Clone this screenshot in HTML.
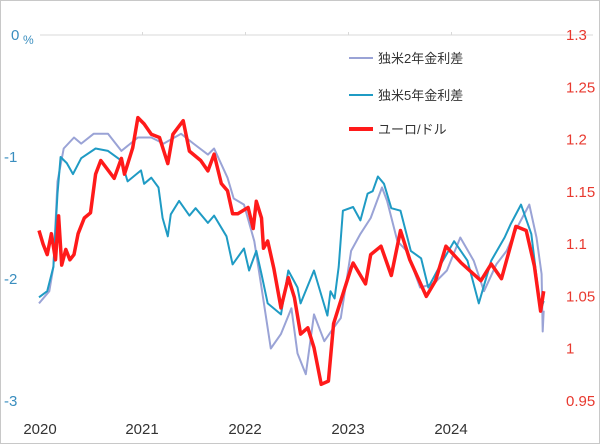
<!DOCTYPE html>
<html><head><meta charset="utf-8"><style>
body{margin:0;background:#fff}
#wrap{width:600px;height:444px;position:relative;box-sizing:border-box;border:1px solid #c8c8c8;background:#fff}
svg{position:absolute;left:0;top:0}
text{font-family:"Liberation Sans","Noto Sans CJK JP",sans-serif}
</style></head><body>
<div id="wrap">
<svg id="chart" width="600" height="444"></svg>
</div>
<script>
const yearTicks=[2020,2021,2022,2023,2024];
const leftTicks=[0,-1,-2,-3];
const rightTicks=[1.3,1.25,1.2,1.15,1.1,1.05,1,0.95];
const rightTickLabels=["1.3","1.25","1.2","1.15","1.1","1.05","1","0.95"];
const seriesNames=["独米2年金利差","独米5年金利差","ユーロ/ドル"];
const spread2Dates=[2020.00,2020.10,2020.14,2020.18,2020.24,2020.34,2020.41,2020.53,2020.67,2020.80,2020.96,2021.09,2021.21,2021.38,2021.50,2021.64,2021.70,2021.83,2021.89,2021.99,2022.09,2022.16,2022.25,2022.35,2022.45,2022.51,2022.59,2022.67,2022.77,2022.86,2022.93,2023.03,2023.12,2023.22,2023.33,2023.38,2023.48,2023.57,2023.70,2023.83,2023.96,2024.09,2024.22,2024.32,2024.44,2024.54,2024.64,2024.76,2024.83,2024.88,2024.89,2024.90];
const spread2Values=[-2.2,-2.1,-1.9,-1.2,-0.93,-0.84,-0.89,-0.81,-0.81,-0.95,-0.84,-0.84,-0.89,-0.81,-0.89,-0.98,-0.93,-1.17,-1.34,-1.39,-1.69,-2.07,-2.57,-2.45,-2.24,-2.61,-2.78,-2.29,-2.51,-2.4,-2.32,-1.77,-1.63,-1.5,-1.25,-1.36,-1.69,-1.77,-2.07,-2.04,-1.93,-1.66,-1.85,-2.1,-1.88,-1.77,-1.58,-1.39,-1.66,-1.96,-2.43,-2.26];
const spread5Dates=[2020.00,2020.08,2020.14,2020.18,2020.21,2020.27,2020.33,2020.41,2020.55,2020.67,2020.80,2020.86,2020.99,2021.02,2021.09,2021.16,2021.20,2021.25,2021.28,2021.36,2021.46,2021.52,2021.64,2021.70,2021.82,2021.88,2021.99,2022.04,2022.11,2022.16,2022.22,2022.35,2022.42,2022.51,2022.54,2022.67,2022.80,2022.83,2022.87,2022.91,2022.95,2023.05,2023.12,2023.19,2023.24,2023.29,2023.35,2023.42,2023.51,2023.61,2023.71,2023.78,2023.90,2024.03,2024.16,2024.27,2024.39,2024.52,2024.58,2024.68,2024.78,2024.87,2024.90];
const spread5Values=[-2.15,-2.1,-1.9,-1.3,-1.0,-1.05,-1.14,-1.01,-0.93,-0.95,-1.03,-1.2,-1.11,-1.22,-1.17,-1.25,-1.5,-1.65,-1.47,-1.36,-1.48,-1.42,-1.54,-1.48,-1.65,-1.88,-1.75,-1.93,-1.77,-1.96,-2.2,-2.29,-1.93,-2.07,-2.2,-1.93,-2.3,-2.1,-2.16,-1.9,-1.44,-1.41,-1.52,-1.3,-1.28,-1.16,-1.22,-1.42,-1.44,-1.77,-1.83,-2.07,-1.88,-1.69,-1.85,-2.2,-1.85,-1.66,-1.55,-1.39,-1.63,-2.26,-2.18];
const fxDates=[2020.00,2020.04,2020.08,2020.12,2020.16,2020.19,2020.22,2020.26,2020.30,2020.34,2020.38,2020.44,2020.50,2020.55,2020.60,2020.73,2020.80,2020.83,2020.91,2020.96,2021.02,2021.09,2021.17,2021.25,2021.30,2021.40,2021.46,2021.57,2021.64,2021.70,2021.77,2021.83,2021.88,2021.93,2022.03,2022.08,2022.11,2022.16,2022.18,2022.22,2022.28,2022.35,2022.42,2022.48,2022.54,2022.61,2022.67,2022.74,2022.81,2022.86,2022.93,2023.03,2023.05,2023.17,2023.22,2023.32,2023.42,2023.51,2023.60,2023.76,2023.85,2023.95,2024.10,2024.29,2024.39,2024.49,2024.63,2024.73,2024.81,2024.87,2024.90];
const fxValues=[1.113,1.10,1.09,1.11,1.085,1.127,1.08,1.095,1.085,1.09,1.11,1.125,1.13,1.167,1.18,1.163,1.182,1.167,1.192,1.221,1.215,1.205,1.202,1.177,1.205,1.218,1.189,1.18,1.17,1.186,1.158,1.151,1.129,1.129,1.135,1.115,1.141,1.125,1.096,1.103,1.077,1.039,1.068,1.049,1.014,1.02,1.001,0.966,0.969,1.024,1.046,1.077,1.082,1.062,1.09,1.098,1.07,1.113,1.085,1.05,1.065,1.098,1.082,1.065,1.081,1.067,1.117,1.113,1.079,1.036,1.055];

const NS="http://www.w3.org/2000/svg";
const svg=document.getElementById('chart');
const X0=38,YEARW=103,TOP=34,BOT=400;
function xs(t){return X0+(t-2020)*YEARW;}
function yl(v){return TOP+(0-v)/3*(BOT-TOP);}
function yr(v){return TOP+(1.3-v)/0.35*(BOT-TOP);}
function mk(tag,attrs){const e=document.createElementNS(NS,tag);for(const k in attrs)e.setAttribute(k,attrs[k]);svg.appendChild(e);return e;}

const grid=mk('line',{x1:39,y1:TOP,x2:592,y2:TOP,stroke:'#d9d9d9','stroke-width':1});


yearTicks.forEach((y,i)=>{
  if(i>0){const tk=mk('line',{x1:xs(y)+0.5,y1:TOP-3,x2:xs(y)+0.5,y2:TOP,stroke:'#d9d9d9'});
    
    }
  const t=mk('text',{x:xs(y)+(i==0?1:0),y:433,'font-size':15,fill:'#333','text-anchor':'middle'});
  t.textContent=String(y);
  
  
});
leftTicks.forEach(v=>{
  const t=mk('text',{x:v==0?10:3,y:yl(v)+5,'font-size':15,fill:'#3a8ebf'});
  t.textContent=String(v);
  
  
});
const pct=mk('text',{x:22,y:43,'font-size':12,fill:'#3a8ebf'});
pct.textContent='%';


rightTicks.forEach((v,i)=>{
  const t=mk('text',{x:565,y:yr(v)+5,'font-size':15,fill:'#e8392f'});
  t.textContent=rightTickLabels[i];
  
  
});
function path(d,v,f){return d.map((t,i)=>(i?'L':'M')+xs(t).toFixed(1)+','+f(v[i]).toFixed(1)).join('');}
const p2=mk('path',{d:path(spread2Dates,spread2Values,yl),fill:'none',stroke:'#9aa3d6','stroke-width':2,'stroke-linejoin':'round'});


const p5=mk('path',{d:path(spread5Dates,spread5Values,yl),fill:'none',stroke:'#1f9bc4','stroke-width':2,'stroke-linejoin':'round'});


const pf=mk('path',{d:path(fxDates,fxValues,yr),fill:'none',stroke:'#ff1a1a','stroke-width':3.5,'stroke-linejoin':'round'});



const legCol=['#9aa3d6','#1f9bc4','#ff1a1a'],legW=[2,2,4],legY=[57,94,128];
seriesNames.forEach((n,i)=>{
  const l=mk('line',{x1:348,y1:legY[i],x2:372,y2:legY[i],stroke:legCol[i],'stroke-width':legW[i]});
  
  
  const t=mk('text',{x:377,y:legY[i]+5,'font-size':13,fill:'#333'});
  t.textContent=n;
  
  
});
</script>
</body></html>
